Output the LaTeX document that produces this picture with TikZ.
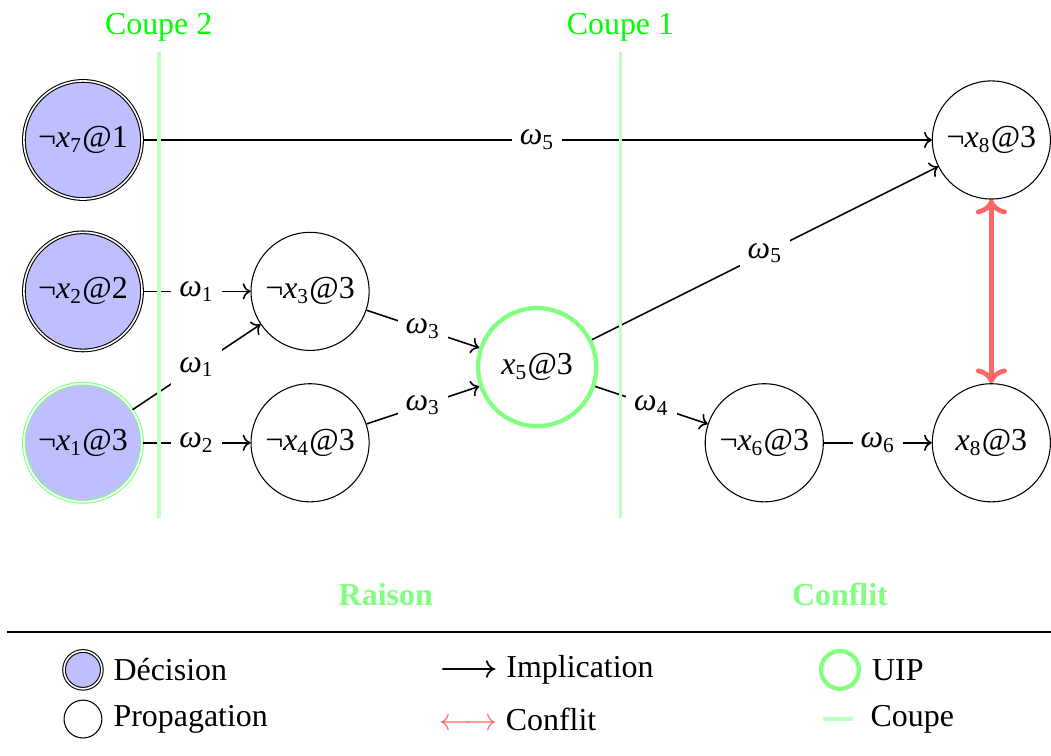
\documentclass[12pt,tikz,border=0pt]{standalone}
\usepackage{amsmath,amssymb}
\usepackage{fontspec}
\setmainfont{Liberation Serif}
\newfontfamily\fTimes{Liberation Serif}
\usepackage{xcolor}
\usetikzlibrary{arrows.meta,positioning}
\definecolor{cDec}{HTML}{BFBFFF}
\definecolor{cUip}{HTML}{80FF80}
\definecolor{cCut}{HTML}{BFFFBF}
\definecolor{cConf}{HTML}{FF6666}
\definecolor{cTag}{HTML}{00FF00}
\tikzset{
  lit/.style={circle,draw,minimum size=1.56cm,inner sep=0pt},
  dec/.style={lit,double,fill=cDec},
  uip/.style={lit,draw=cUip,ultra thick},
  impl/.style={->,semithick},
  confl/.style={<->,line width=1.8pt,cConf},
  cut/.style={line width=1.4pt,cCut},
  wlab/.style={fill=white,inner sep=3pt},
  tag/.style={font=\fTimes\bfseries,text=cUip},
}
\newcommand{\Lit}[3]{#1\textit{x}\textsubscript{#2}@#3}
\newcommand{\wc}[1]{\textit{ω}\textsubscript{#1}}

\begin{document}
\begin{tikzpicture}[font=\fTimes]
  \useasboundingbox (-1.096,-8.125) rectangle (12.788,1.849);
  % graphe d'implication
  \node[dec] (d7) at (0,0) {\Lit{¬}{7}{1}};
  \node[dec] (d2) at (0,-2) {\Lit{¬}{2}{2}};
  \node[dec,draw=cUip] (d1) at (0,-4) {\Lit{¬}{1}{3}};
  \node[lit] (p3) at (3,-2) {\Lit{¬}{3}{3}};
  \node[lit] (p4) at (3,-4) {\Lit{¬}{4}{3}};
  \node[uip] (u5) at (6,-3) {\Lit{}{5}{3}};
  \node[lit] (p6) at (9,-4) {\Lit{¬}{6}{3}};
  \node[lit] (n8) at (12,0) {\Lit{¬}{8}{3}};
  \node[lit] (x8) at (12,-4) {\Lit{}{8}{3}};

  \draw[impl] (d7) -- node[wlab]{\wc5} (n8);
  \draw[impl] (d2) -- node[wlab]{\wc1} (p3);
  \draw[impl] (d1) -- node[wlab]{\wc1} (p3);
  \draw[impl] (d1) -- node[wlab]{\wc2} (p4);
  \draw[impl] (p3) -- node[wlab]{\wc3} (u5);
  \draw[impl] (p4) -- node[wlab]{\wc3} (u5);
  \draw[impl] (u5) -- node[wlab]{\wc5} (n8);
  \draw[impl] (u5) -- node[wlab]{\wc4} (p6);
  \draw[impl] (p6) -- node[wlab]{\wc6} (x8);
  \draw[confl] (n8) -- (x8);

  % coupes
  \foreach \x/\k in {1/2,7.1/1}{
    \coordinate (ct\k) at (\x,1.16);
    \coordinate (cb\k) at (\x,-5);
    \draw[cut] (ct\k) -- (cb\k);
    \node[text=cTag,above=0pt of ct\k] (cl\k) {Coupe \k};
  }
  \node[tag] (raison) at (4,-6) {Raison};
  \node[tag] (conflit) at (10,-6) {Conflit};

  % legende
  \draw (-1,-6.5) -- (12.8,-6.5);
  \node[dec,minimum size=.5cm] (kDec) at (0,-7) {};
  \node[right=0pt of kDec] {Décision};
  \node[lit,minimum size=.5cm] (kProp) at (0,-7.65) {};
  \node[right=0pt of kProp] {Propagation};
  \node[anchor=west] (kImp) at (4.56,-7) {$\boldsymbol{\longrightarrow}$ Implication};
  \node[anchor=west] (kConf) at (4.56,-7.65) {\textcolor{cConf}{$\longleftrightarrow$} Conflit};
  \node[uip,minimum size=.5cm] (kUip) at (10,-7) {};
  \node[right=0pt of kUip] {UIP};
  \coordinate (kc1) at (9.77,-7.65);
  \coordinate (kc2) at (10.17,-7.65);
  \draw[cut] (kc1) -- (kc2) node[right=2pt,text=black] {Coupe};
\end{tikzpicture}
\end{document}
